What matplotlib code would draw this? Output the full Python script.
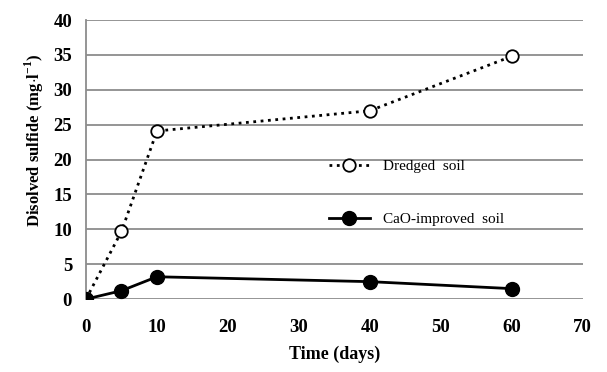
import matplotlib.pyplot as plt

plt.rcParams['font.family'] = 'Liberation Serif'
plt.rcParams['mathtext.fontset'] = 'custom'
plt.rcParams['mathtext.rm'] = 'Liberation Serif:bold'
plt.rcParams['mathtext.bf'] = 'Liberation Serif:bold'

# sampling times (days) and dissolved sulfide (mg/l)
days = [0, 5, 10, 40, 60]
dredged = [0, 9.7, 24.1, 27.0, 34.8]
cao_improved = [0, 1.2, 3.2, 2.5, 1.5]

fig = plt.figure(figsize=(6.07, 3.72), dpi=100)
ax = fig.add_axes([0.1417, 0.196, 0.818, 0.75])

ax.plot(days, dredged, color='black', linestyle=':', linewidth=2,
        marker='o', markersize=9, markerfacecolor='white',
        markeredgecolor='black', markeredgewidth=1.3, label='Dredged  soil', zorder=3)
ax.plot(days, cao_improved, color='black', linestyle='-', linewidth=2,
        marker='o', markersize=10, markerfacecolor='black',
        markeredgecolor='black', label='CaO-improved  soil', zorder=3)

ax.set_xlim(0, 70)
ax.set_ylim(0, 40)
ax.set_xticks(range(0, 71, 10))
ax.set_yticks(range(0, 41, 5))
ax.grid(axis='y', color='#8c8c8c', linewidth=1.3)
ax.set_axisbelow(True)
for s in ['top', 'right', 'bottom']:
    ax.spines[s].set_visible(False)
ax.spines['left'].set_color('#8c8c8c')
ax.spines['left'].set_linewidth(1.3)
ax.tick_params(axis='both', length=0, labelsize=13.5)
ax.tick_params(axis='x', pad=14)
ax.tick_params(axis='y', pad=10)
for lab in ax.get_xticklabels() + ax.get_yticklabels():
    lab.set_fontweight('bold')

ax.set_xlabel('Time (days)', fontsize=13, fontweight='bold', labelpad=7)
ax.set_ylabel(r'Disolved sulfide (mg$\cdot$l$^{-1}$)', fontsize=12,
              fontweight='bold')
ax.yaxis.set_label_coords(-0.08, 0.57)

ax.legend(loc='upper left', bbox_to_anchor=(0.461, 0.55), frameon=False,
          fontsize=11, labelspacing=2.6, handlelength=2.7, handletextpad=0.85,
          numpoints=1)

fig.savefig('out.png', dpi=100)
